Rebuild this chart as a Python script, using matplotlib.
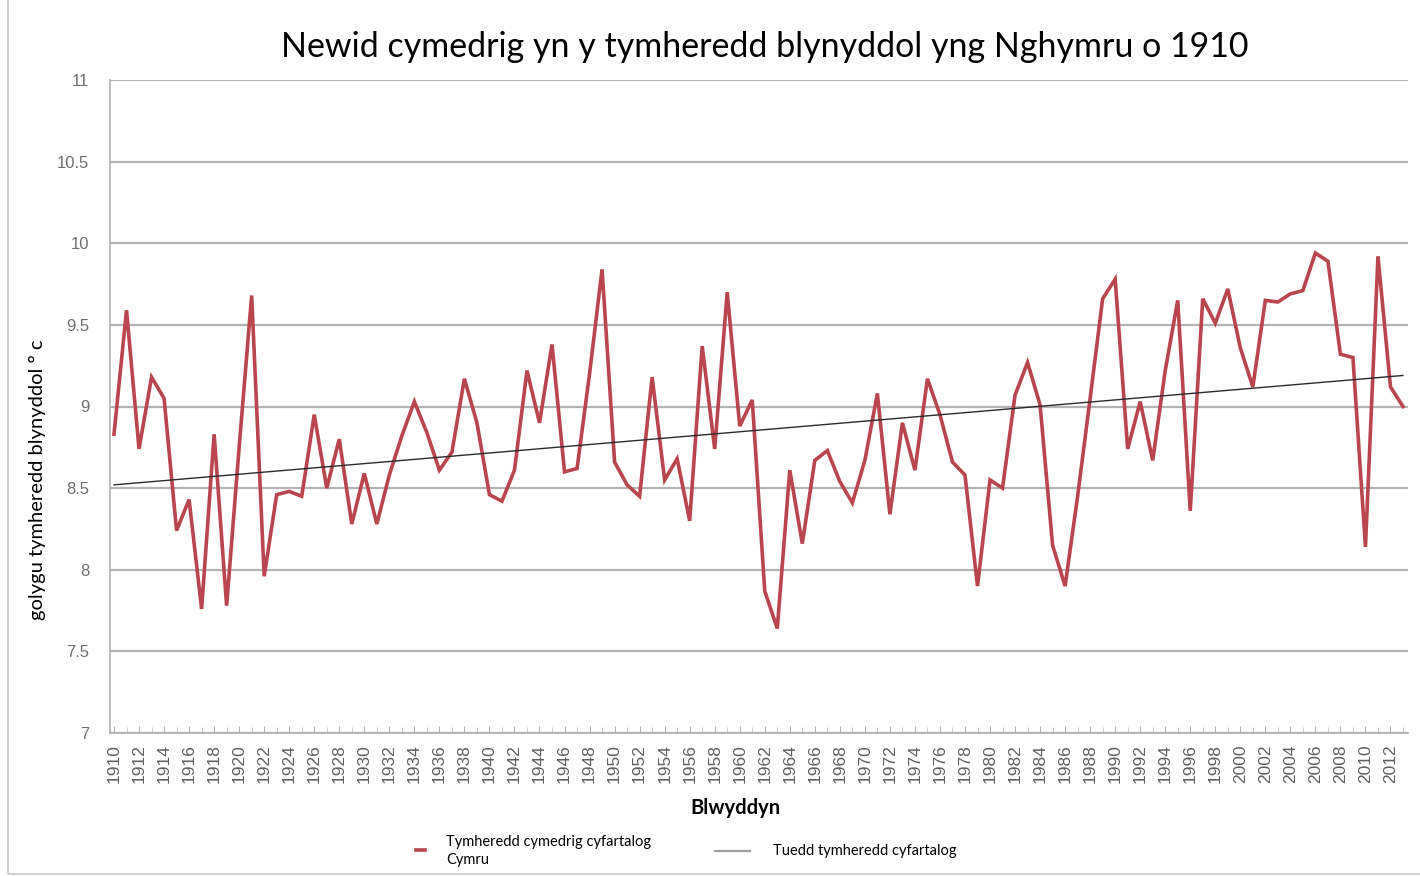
import numpy as np
import matplotlib
matplotlib.use('Agg')
import matplotlib.pyplot as plt
from matplotlib.lines import Line2D

years = np.arange(1910, 2014)
temps = [
    8.83, 9.59, 8.74, 9.18, 9.05, 8.24, 8.43, 7.76, 8.83, 7.78,
    8.75, 9.68, 7.96, 8.46, 8.48, 8.45, 8.95, 8.50, 8.80, 8.28,
    8.59, 8.28, 8.58, 8.82, 9.03, 8.84, 8.61, 8.72, 9.17, 8.90,
    8.46, 8.42, 8.61, 9.22, 8.90, 9.38, 8.60, 8.62, 9.20, 9.84,
    8.66, 8.52, 8.45, 9.18, 8.55, 8.68, 8.30, 9.37, 8.74, 9.70,
    8.88, 9.04, 7.87, 7.64, 8.61, 8.16, 8.67, 8.73, 8.54, 8.41,
    8.67, 9.08, 8.34, 8.90, 8.61, 9.17, 8.95, 8.66, 8.58, 7.90,
    8.55, 8.50, 9.07, 9.27, 9.01, 8.15, 7.90, 8.45, 9.05, 9.66,
    9.78, 8.74, 9.03, 8.67, 9.22, 9.65, 8.36, 9.66, 9.51, 9.72,
    9.36, 9.12, 9.65, 9.64, 9.69, 9.71, 9.94, 9.89, 9.32, 9.30,
    8.14, 9.92, 9.12, 9.00,
]
trend_years = [1910, 2013]
trend_vals = [8.52, 9.19]

title = 'Newid cymedrig yn y tymheredd blynyddol yng Nghymru o 1910'
y_label = 'golygu tymheredd blynyddol ° c'
x_label = 'Blwyddyn'
legend_temp = 'Tymheredd cymedrig cyfartalog\nCymru'
legend_trend = 'Tuedd tymheredd cyfartalog'
y_ticks = [7, 7.5, 8, 8.5, 9, 9.5, 10, 10.5, 11]
y_tick_labels = ['7', '7.5', '8', '8.5', '9', '9.5', '10', '10.5', '11']

W, H = 1420, 876
fig = plt.figure(figsize=(W / 100, H / 100), dpi=100)
ax = fig.add_axes([110 / W, 1 - 733 / H, (1408 - 110) / W, (733 - 80) / H])

ax.plot(years, temps, color='#B9464F', lw=2.6, solid_joinstyle='miter', zorder=3)
ax.plot(trend_years, trend_vals, color='#2b2b2b', lw=1.0, zorder=4)

ax.set_xlim(1909.68, 2013.4)
ax.set_ylim(7, 11)
ax.set_yticks(y_ticks)
ax.set_yticklabels(y_tick_labels)
ax.yaxis.grid(True, color='#B4B4B4', lw=1.6)
ax.set_axisbelow(True)

ax.set_xticks(years[::2])
ax.set_xticklabels([str(y) for y in years[::2]], rotation=90)
ax.set_xticks(years, minor=True)

for s in ['top', 'right']:
    ax.spines[s].set_visible(False)
for s in ['left', 'bottom']:
    ax.spines[s].set_color('#B0B0B0')
    ax.spines[s].set_linewidth(1.2)

ax.tick_params(axis='y', length=0, pad=15, labelsize=12, labelcolor='#707070',
               labelfontfamily='Liberation Sans')
ax.tick_params(axis='x', which='major', direction='in', length=5, color='#B0B0B0',
               pad=8, labelsize=12.5, labelcolor='#606060', labelfontfamily='Liberation Sans')
ax.tick_params(axis='x', which='minor', direction='in', length=4, color='#C0C0C0')

fig.text(765 / W, 1 - 47 / H, title, ha='center', va='center', fontsize=24.5,
         family='Lato', color='black')
fig.text(37 / W, 1 - 480 / H, y_label, ha='center', va='center', rotation=90,
         fontsize=14.5, family='Lato')
fig.text(735 / W, 1 - 808 / H, x_label, ha='center', va='center', fontsize=14.5,
         family='Lato', weight='bold')

# legend drawn by hand to match the original positions
fig.add_artist(Line2D([416 / W, 425 / W], [1 - 850 / H, 1 - 850 / H], color='#B9464F', lw=2.6))
fig.text(446 / W, 1 - 851 / H, legend_temp, ha='left', va='center', fontsize=10.5,
         family='Lato', linespacing=1.45)
fig.add_artist(Line2D([715 / W, 750 / W], [1 - 851 / H, 1 - 851 / H], color='#A0A0A0', lw=1.6))
fig.text(773 / W, 1 - 851 / H, legend_trend, ha='left', va='center', fontsize=10.5,
         family='Lato')

# outer chart border
fig.add_artist(Line2D([8 / W, 8 / W, 1.0], [1.0, 1 - 874 / H, 1 - 874 / H], color='#C8C8C8', lw=1.2))

fig.savefig('out.png', dpi=100)
